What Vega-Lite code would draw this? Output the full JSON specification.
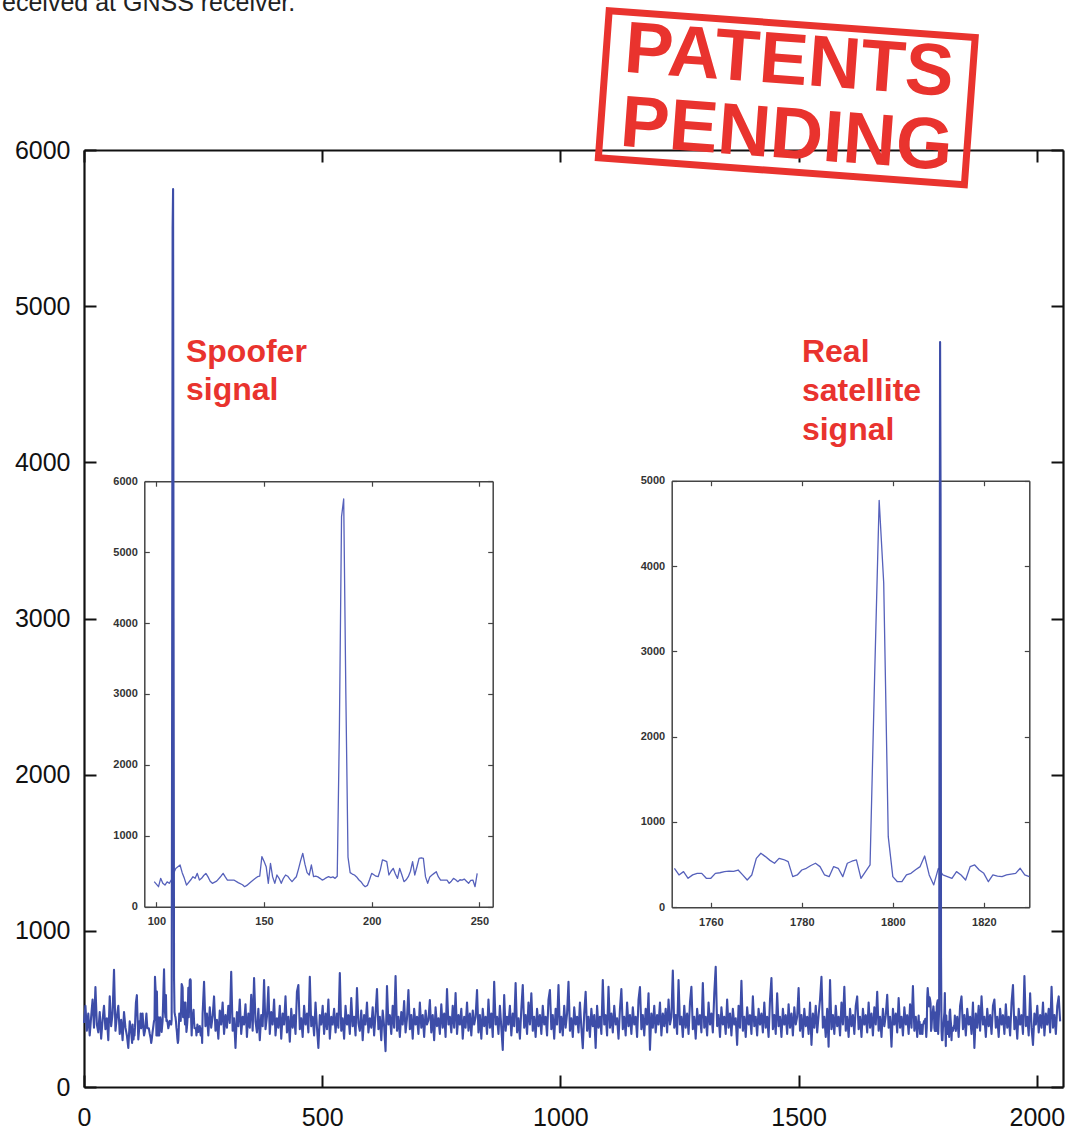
{
"$schema":"https://vega.github.io/schema/vega-lite/v6.json",
"width":979,"height":937,
"autosize":{"type":"none"},
"padding":{"left":84,"top":150,"right":8,"bottom":42},
"background":"white",
"config":{"view":{"stroke":null},"axis":{"grid":false,"labelFont":"Liberation Sans","title":null,"format":"d"}},
"datasets":{
"main":[
{"x":0,"y":410},{"x":3,"y":520},{"x":6,"y":360},{"x":9,"y":470},{"x":12,"y":330},{"x":15,"y":450},{"x":18,"y":560},{"x":21,"y":380},{"x":24,"y":640},{"x":27,"y":400},
{"x":30,"y":350},{"x":33,"y":480},{"x":36,"y":310},{"x":39,"y":430},{"x":42,"y":520},{"x":45,"y":370},{"x":48,"y":440},{"x":51,"y":300},{"x":54,"y":580},{"x":57,"y":390},
{"x":60,"y":470},{"x":63,"y":750},{"x":66,"y":360},{"x":69,"y":450},{"x":72,"y":520},{"x":75,"y":340},{"x":78,"y":430},{"x":81,"y":300},{"x":84,"y":480},{"x":87,"y":380},
{"x":90,"y":330},{"x":93,"y":250},{"x":96,"y":420},
{"x":99,"y":353},{"x":101,"y":282},{"x":102,"y":400},{"x":103,"y":330},{"x":104,"y":305},{"x":105,"y":350},{"x":106,"y":330},{"x":107,"y":380},{"x":108,"y":470},{"x":109,"y":540},
{"x":111,"y":588},{"x":112,"y":480},{"x":113,"y":400},{"x":114,"y":305},{"x":116,"y":380},{"x":117,"y":423},{"x":118,"y":400},{"x":119,"y":470},{"x":120,"y":376},{"x":121,"y":400},
{"x":122,"y":440},{"x":123,"y":470},{"x":124,"y":420},{"x":125,"y":360},{"x":126,"y":330},{"x":128,"y":360},{"x":130,"y":430},{"x":131,"y":470},{"x":132,"y":420},{"x":133,"y":376},
{"x":135,"y":376},{"x":136,"y":376},{"x":138,"y":340},{"x":140,"y":310},{"x":141,"y":282},{"x":142,"y":300},{"x":144,"y":353},{"x":146,"y":400},{"x":147,"y":423},{"x":148,"y":430},
{"x":149,"y":706},{"x":150,"y":640},{"x":151,"y":565},{"x":152,"y":330},{"x":153,"y":612},{"x":154,"y":420},{"x":155,"y":330},{"x":156,"y":447},{"x":157,"y":400},{"x":158,"y":330},
{"x":159,"y":400},{"x":160,"y":447},{"x":161,"y":430},{"x":162,"y":390},{"x":163,"y":353},{"x":164,"y":390},{"x":165,"y":423},{"x":166,"y":530},{"x":167,"y":650},{"x":168,"y":753},
{"x":169,"y":600},{"x":170,"y":480},{"x":171,"y":447},{"x":172,"y":588},{"x":173,"y":423},{"x":174,"y":430},{"x":175,"y":420},{"x":176,"y":400},{"x":177,"y":376},{"x":178,"y":390},
{"x":179,"y":410},{"x":180,"y":423},{"x":181,"y":410},{"x":182,"y":420},{"x":183,"y":400},{"x":184,"y":430},{"x":185,"y":2500},{"x":186,"y":5500},{"x":187,"y":5750},{"x":188,"y":3000},
{"x":189,"y":700},{"x":190,"y":480},{"x":191,"y":460},{"x":192,"y":447},{"x":193,"y":420},{"x":194,"y":380},{"x":195,"y":353},{"x":196,"y":310},{"x":197,"y":282},{"x":198,"y":300},
{"x":199,"y":380},{"x":200,"y":470},{"x":201,"y":450},{"x":202,"y":430},{"x":203,"y":423},{"x":204,"y":520},{"x":205,"y":659},{"x":206,"y":650},{"x":207,"y":635},{"x":208,"y":447},
{"x":209,"y":500},{"x":210,"y":541},{"x":211,"y":460},{"x":212,"y":400},{"x":213,"y":541},{"x":214,"y":450},{"x":215,"y":353},{"x":216,"y":380},{"x":217,"y":423},{"x":218,"y":500},
{"x":219,"y":635},{"x":220,"y":447},{"x":221,"y":560},{"x":222,"y":682},{"x":223,"y":690},{"x":224,"y":682},{"x":225,"y":420},{"x":226,"y":330},{"x":227,"y":420},{"x":228,"y":447},
{"x":229,"y":470},{"x":230,"y":494},{"x":231,"y":420},{"x":232,"y":376},{"x":234,"y":376},{"x":235,"y":376},{"x":236,"y":330},{"x":237,"y":360},{"x":238,"y":400},{"x":239,"y":380},
{"x":240,"y":353},{"x":241,"y":380},{"x":242,"y":376},{"x":243,"y":390},{"x":244,"y":360},{"x":245,"y":330},{"x":246,"y":370},{"x":247,"y":376},{"x":248,"y":282},{"x":249,"y":470},
{"x":252,"y":674},{"x":255,"y":390},{"x":258,"y":470},{"x":261,"y":330},{"x":264,"y":510},{"x":267,"y":380},{"x":270,"y":450},{"x":273,"y":580},{"x":276,"y":360},{"x":279,"y":430},
{"x":282,"y":310},{"x":285,"y":490},{"x":288,"y":400},{"x":291,"y":540},{"x":294,"y":340},{"x":297,"y":460},{"x":300,"y":380},{"x":303,"y":520},{"x":306,"y":410},{"x":309,"y":738},
{"x":312,"y":360},{"x":315,"y":440},{"x":318,"y":250},{"x":321,"y":480},{"x":324,"y":390},{"x":327,"y":560},{"x":330,"y":340},{"x":333,"y":450},{"x":336,"y":400},{"x":339,"y":530},
{"x":342,"y":320},{"x":345,"y":470},{"x":348,"y":380},{"x":351,"y":590},{"x":354,"y":360},{"x":357,"y":698},{"x":360,"y":420},{"x":363,"y":350},{"x":366,"y":500},{"x":369,"y":300},
{"x":372,"y":460},{"x":375,"y":390},{"x":378,"y":685},{"x":381,"y":370},{"x":384,"y":450},{"x":387,"y":640},{"x":390,"y":340},{"x":393,"y":480},{"x":396,"y":400},{"x":399,"y":560},
{"x":402,"y":330},{"x":405,"y":440},{"x":408,"y":380},{"x":411,"y":520},{"x":414,"y":310},{"x":417,"y":470},{"x":420,"y":400},{"x":423,"y":580},{"x":426,"y":350},{"x":429,"y":450},
{"x":432,"y":290},{"x":435,"y":500},{"x":438,"y":380},{"x":441,"y":460},{"x":444,"y":340},{"x":447,"y":610},{"x":450,"y":653},{"x":453,"y":370},{"x":456,"y":440},{"x":459,"y":320},
{"x":462,"y":520},{"x":465,"y":400},{"x":468,"y":470},{"x":471,"y":350},{"x":474,"y":706},{"x":477,"y":390},{"x":480,"y":450},{"x":483,"y":330},{"x":486,"y":540},{"x":489,"y":380},
{"x":492,"y":250},{"x":495,"y":460},{"x":498,"y":400},{"x":501,"y":520},{"x":504,"y":340},{"x":507,"y":470},{"x":510,"y":370},{"x":513,"y":560},{"x":516,"y":310},{"x":519,"y":450},
{"x":522,"y":400},{"x":525,"y":500},{"x":528,"y":350},{"x":531,"y":470},{"x":534,"y":380},{"x":537,"y":730},{"x":540,"y":360},{"x":543,"y":440},{"x":546,"y":310},{"x":549,"y":520},
{"x":552,"y":400},{"x":555,"y":460},{"x":558,"y":340},{"x":561,"y":570},{"x":564,"y":390},{"x":567,"y":450},{"x":570,"y":330},{"x":573,"y":633},{"x":576,"y":410},{"x":579,"y":360},
{"x":582,"y":490},{"x":585,"y":300},{"x":588,"y":460},{"x":591,"y":400},{"x":594,"y":540},{"x":597,"y":350},{"x":600,"y":440},{"x":603,"y":380},{"x":606,"y":510},{"x":609,"y":330},
{"x":612,"y":470},{"x":615,"y":627},{"x":618,"y":370},{"x":621,"y":450},{"x":624,"y":300},{"x":627,"y":490},{"x":630,"y":390},{"x":633,"y":230},{"x":636,"y":647},{"x":639,"y":400},
{"x":642,"y":460},{"x":645,"y":340},{"x":648,"y":520},{"x":651,"y":380},{"x":654,"y":711},{"x":657,"y":360},{"x":660,"y":450},{"x":663,"y":320},{"x":666,"y":480},{"x":669,"y":400},
{"x":672,"y":550},{"x":675,"y":350},{"x":678,"y":440},{"x":681,"y":621},{"x":684,"y":370},{"x":687,"y":460},{"x":690,"y":310},{"x":693,"y":500},{"x":696,"y":400},{"x":699,"y":450},
{"x":702,"y":340},{"x":705,"y":540},{"x":708,"y":380},{"x":711,"y":460},{"x":714,"y":320},{"x":717,"y":490},{"x":720,"y":400},{"x":723,"y":430},{"x":726,"y":557},{"x":729,"y":350},
{"x":732,"y":460},{"x":735,"y":300},{"x":738,"y":510},{"x":741,"y":390},{"x":744,"y":440},{"x":747,"y":340},{"x":750,"y":530},{"x":753,"y":380},{"x":756,"y":470},{"x":759,"y":320},
{"x":762,"y":627},{"x":765,"y":400},{"x":768,"y":450},{"x":771,"y":350},{"x":774,"y":520},{"x":777,"y":380},{"x":780,"y":601},{"x":783,"y":340},{"x":786,"y":460},{"x":789,"y":400},
{"x":792,"y":500},{"x":795,"y":310},{"x":798,"y":450},{"x":801,"y":380},{"x":804,"y":540},{"x":807,"y":360},{"x":810,"y":470},{"x":813,"y":330},{"x":816,"y":490},{"x":819,"y":400},
{"x":822,"y":450},{"x":825,"y":621},{"x":828,"y":350},{"x":831,"y":460},{"x":834,"y":310},{"x":837,"y":500},{"x":840,"y":390},{"x":843,"y":450},{"x":846,"y":340},{"x":849,"y":560},
{"x":852,"y":380},{"x":855,"y":470},{"x":858,"y":320},{"x":861,"y":674},{"x":864,"y":400},{"x":867,"y":450},{"x":870,"y":340},{"x":873,"y":520},{"x":876,"y":380},{"x":879,"y":237},
{"x":882,"y":589},{"x":885,"y":360},{"x":888,"y":450},{"x":891,"y":400},{"x":894,"y":520},{"x":897,"y":330},{"x":900,"y":470},{"x":903,"y":390},{"x":906,"y":666},{"x":909,"y":350},
{"x":912,"y":440},{"x":915,"y":310},{"x":918,"y":500},{"x":921,"y":653},{"x":924,"y":380},{"x":927,"y":460},{"x":930,"y":340},{"x":933,"y":540},{"x":936,"y":400},{"x":939,"y":600},
{"x":942,"y":360},{"x":945,"y":450},{"x":948,"y":320},{"x":951,"y":500},{"x":954,"y":390},{"x":957,"y":460},{"x":960,"y":340},{"x":963,"y":520},{"x":966,"y":400},{"x":969,"y":450},
{"x":972,"y":330},{"x":975,"y":560},{"x":978,"y":621},{"x":981,"y":370},{"x":984,"y":460},{"x":987,"y":310},{"x":990,"y":500},{"x":993,"y":400},{"x":996,"y":653},{"x":999,"y":350},
{"x":1002,"y":450},{"x":1005,"y":330},{"x":1008,"y":520},{"x":1011,"y":380},{"x":1014,"y":470},{"x":1017,"y":674},{"x":1020,"y":360},{"x":1023,"y":440},{"x":1026,"y":320},{"x":1029,"y":510},
{"x":1032,"y":400},{"x":1035,"y":450},{"x":1038,"y":350},{"x":1041,"y":540},{"x":1044,"y":380},{"x":1047,"y":248},{"x":1050,"y":470},{"x":1053,"y":610},{"x":1056,"y":360},{"x":1059,"y":450},
{"x":1062,"y":320},{"x":1065,"y":500},{"x":1068,"y":390},{"x":1071,"y":460},{"x":1074,"y":250},{"x":1077,"y":520},{"x":1080,"y":380},{"x":1083,"y":450},{"x":1086,"y":340},{"x":1089,"y":685},
{"x":1092,"y":400},{"x":1095,"y":460},{"x":1098,"y":330},{"x":1101,"y":642},{"x":1104,"y":380},{"x":1107,"y":470},{"x":1110,"y":350},{"x":1113,"y":520},{"x":1116,"y":400},{"x":1119,"y":440},
{"x":1122,"y":310},{"x":1125,"y":500},{"x":1128,"y":627},{"x":1131,"y":370},{"x":1134,"y":450},{"x":1137,"y":330},{"x":1140,"y":540},{"x":1143,"y":390},{"x":1146,"y":460},{"x":1149,"y":340},
{"x":1152,"y":510},{"x":1155,"y":400},{"x":1158,"y":450},{"x":1161,"y":320},{"x":1164,"y":560},{"x":1167,"y":640},{"x":1170,"y":370},{"x":1173,"y":460},{"x":1176,"y":330},{"x":1179,"y":500},
{"x":1182,"y":400},{"x":1185,"y":600},{"x":1188,"y":238},{"x":1191,"y":470},{"x":1194,"y":380},{"x":1197,"y":520},{"x":1200,"y":350},{"x":1203,"y":460},{"x":1206,"y":400},{"x":1209,"y":540},
{"x":1212,"y":330},{"x":1215,"y":470},{"x":1218,"y":390},{"x":1221,"y":500},{"x":1224,"y":350},{"x":1227,"y":560},{"x":1230,"y":400},{"x":1233,"y":450},{"x":1236,"y":745},{"x":1239,"y":380},
{"x":1242,"y":460},{"x":1245,"y":340},{"x":1248,"y":685},{"x":1251,"y":400},{"x":1254,"y":450},{"x":1257,"y":320},{"x":1260,"y":520},{"x":1263,"y":380},{"x":1266,"y":470},{"x":1269,"y":340},
{"x":1272,"y":540},{"x":1275,"y":642},{"x":1278,"y":370},{"x":1281,"y":450},{"x":1284,"y":310},{"x":1287,"y":500},{"x":1290,"y":400},{"x":1293,"y":460},{"x":1296,"y":350},{"x":1299,"y":666},
{"x":1302,"y":380},{"x":1305,"y":450},{"x":1308,"y":330},{"x":1311,"y":540},{"x":1314,"y":400},{"x":1317,"y":470},{"x":1320,"y":350},{"x":1323,"y":600},{"x":1326,"y":770},{"x":1329,"y":390},
{"x":1332,"y":460},{"x":1335,"y":320},{"x":1338,"y":510},{"x":1341,"y":400},{"x":1344,"y":450},{"x":1347,"y":340},{"x":1350,"y":560},{"x":1353,"y":380},{"x":1356,"y":470},{"x":1359,"y":330},
{"x":1362,"y":500},{"x":1365,"y":400},{"x":1368,"y":440},{"x":1371,"y":270},{"x":1374,"y":520},{"x":1377,"y":380},{"x":1380,"y":680},{"x":1383,"y":360},{"x":1386,"y":450},{"x":1389,"y":320},
{"x":1392,"y":510},{"x":1395,"y":400},{"x":1398,"y":460},{"x":1401,"y":340},{"x":1404,"y":580},{"x":1407,"y":390},{"x":1410,"y":450},{"x":1413,"y":330},{"x":1416,"y":500},{"x":1419,"y":400},
{"x":1422,"y":470},{"x":1425,"y":350},{"x":1428,"y":540},{"x":1431,"y":380},{"x":1434,"y":450},{"x":1437,"y":320},{"x":1440,"y":560},{"x":1443,"y":698},{"x":1446,"y":370},{"x":1449,"y":460},
{"x":1452,"y":340},{"x":1455,"y":600},{"x":1458,"y":390},{"x":1461,"y":450},{"x":1464,"y":320},{"x":1467,"y":500},{"x":1470,"y":400},{"x":1473,"y":460},{"x":1476,"y":340},{"x":1479,"y":530},
{"x":1482,"y":380},{"x":1485,"y":470},{"x":1488,"y":330},{"x":1491,"y":510},{"x":1494,"y":400},{"x":1497,"y":450},{"x":1500,"y":633},{"x":1503,"y":360},{"x":1506,"y":460},{"x":1509,"y":320},
{"x":1512,"y":500},{"x":1515,"y":390},{"x":1518,"y":450},{"x":1521,"y":340},{"x":1524,"y":540},{"x":1527,"y":270},{"x":1530,"y":470},{"x":1533,"y":380},{"x":1536,"y":520},{"x":1539,"y":350},
{"x":1542,"y":460},{"x":1545,"y":560},{"x":1548,"y":706},{"x":1551,"y":380},{"x":1554,"y":450},{"x":1557,"y":320},{"x":1560,"y":500},{"x":1563,"y":258},{"x":1566,"y":685},{"x":1569,"y":370},
{"x":1572,"y":460},{"x":1575,"y":340},{"x":1578,"y":520},{"x":1581,"y":390},{"x":1584,"y":450},{"x":1587,"y":330},{"x":1590,"y":540},{"x":1593,"y":400},{"x":1596,"y":642},{"x":1599,"y":360},
{"x":1602,"y":450},{"x":1605,"y":320},{"x":1608,"y":500},{"x":1611,"y":390},{"x":1614,"y":460},{"x":1617,"y":340},{"x":1620,"y":520},{"x":1623,"y":580},{"x":1626,"y":370},{"x":1629,"y":450},
{"x":1632,"y":320},{"x":1635,"y":500},{"x":1638,"y":400},{"x":1641,"y":460},{"x":1644,"y":350},{"x":1647,"y":540},{"x":1650,"y":380},{"x":1653,"y":470},{"x":1656,"y":330},{"x":1659,"y":510},
{"x":1662,"y":400},{"x":1665,"y":610},{"x":1668,"y":360},{"x":1671,"y":450},{"x":1674,"y":320},{"x":1677,"y":500},{"x":1680,"y":390},{"x":1683,"y":460},{"x":1686,"y":590},{"x":1689,"y":380},
{"x":1692,"y":450},{"x":1695,"y":258},{"x":1698,"y":500},{"x":1701,"y":400},{"x":1704,"y":470},{"x":1707,"y":350},{"x":1710,"y":570},{"x":1713,"y":380},{"x":1716,"y":450},{"x":1719,"y":330},
{"x":1722,"y":510},{"x":1725,"y":400},{"x":1728,"y":460},{"x":1731,"y":340},{"x":1734,"y":530},{"x":1737,"y":380},{"x":1740,"y":647},{"x":1743,"y":360},{"x":1746,"y":450},{"x":1749,"y":320},
{"x":1752,"y":457},{"x":1753,"y":379},{"x":1754,"y":418},{"x":1755,"y":340},{"x":1756,"y":380},{"x":1757,"y":398},{"x":1758,"y":398},{"x":1759,"y":340},{"x":1760,"y":340},{"x":1761,"y":398},
{"x":1762,"y":405},{"x":1763,"y":418},{"x":1764,"y":425},{"x":1765,"y":420},{"x":1766,"y":437},{"x":1767,"y":380},{"x":1768,"y":320},{"x":1769,"y":379},{"x":1770,"y":574},{"x":1771,"y":633},
{"x":1772,"y":594},{"x":1773,"y":550},{"x":1774,"y":516},{"x":1775,"y":574},{"x":1776,"y":560},{"x":1777,"y":535},{"x":1778,"y":359},{"x":1779,"y":379},{"x":1780,"y":437},{"x":1781,"y":457},
{"x":1782,"y":490},{"x":1783,"y":516},{"x":1784,"y":477},{"x":1785,"y":379},{"x":1786,"y":359},{"x":1787,"y":477},{"x":1788,"y":457},{"x":1789,"y":359},{"x":1790,"y":516},{"x":1791,"y":540},
{"x":1792,"y":555},{"x":1793,"y":340},{"x":1794,"y":418},{"x":1795,"y":496},{"x":1796,"y":2700},{"x":1797,"y":4770},{"x":1798,"y":3800},{"x":1799,"y":828},{"x":1800,"y":359},{"x":1801,"y":300},
{"x":1802,"y":300},{"x":1803,"y":379},{"x":1804,"y":398},{"x":1805,"y":440},{"x":1806,"y":477},{"x":1807,"y":601},{"x":1808,"y":379},{"x":1809,"y":262},{"x":1810,"y":457},{"x":1811,"y":379},
{"x":1812,"y":360},{"x":1813,"y":340},{"x":1814,"y":418},{"x":1815,"y":379},{"x":1816,"y":320},{"x":1817,"y":477},{"x":1818,"y":496},{"x":1819,"y":437},{"x":1820,"y":398},{"x":1821,"y":300},
{"x":1822,"y":379},{"x":1823,"y":365},{"x":1824,"y":359},{"x":1825,"y":379},{"x":1826,"y":390},{"x":1827,"y":398},{"x":1828,"y":457},{"x":1829,"y":379},{"x":1830,"y":359},
{"x":1833,"y":450},{"x":1836,"y":320},{"x":1839,"y":520},{"x":1842,"y":580},{"x":1845,"y":370},{"x":1848,"y":460},{"x":1851,"y":330},{"x":1854,"y":500},{"x":1857,"y":400},{"x":1860,"y":450},
{"x":1863,"y":340},{"x":1866,"y":540},{"x":1869,"y":250},{"x":1872,"y":470},{"x":1875,"y":380},{"x":1878,"y":520},{"x":1881,"y":360},{"x":1884,"y":580},{"x":1887,"y":400},{"x":1890,"y":450},
{"x":1893,"y":320},{"x":1896,"y":500},{"x":1899,"y":390},{"x":1902,"y":460},{"x":1905,"y":340},{"x":1908,"y":520},{"x":1911,"y":560},{"x":1914,"y":380},{"x":1917,"y":450},{"x":1920,"y":320},
{"x":1923,"y":500},{"x":1926,"y":400},{"x":1929,"y":460},{"x":1932,"y":340},{"x":1935,"y":530},{"x":1938,"y":380},{"x":1941,"y":450},{"x":1944,"y":330},{"x":1947,"y":540},{"x":1950,"y":653},
{"x":1953,"y":370},{"x":1956,"y":450},{"x":1959,"y":310},{"x":1962,"y":500},{"x":1965,"y":400},{"x":1968,"y":460},{"x":1971,"y":340},{"x":1974,"y":711},{"x":1977,"y":390},{"x":1980,"y":450},
{"x":1983,"y":330},{"x":1986,"y":600},{"x":1989,"y":380},{"x":1992,"y":269},{"x":1995,"y":470},{"x":1998,"y":400},{"x":2001,"y":520},{"x":2004,"y":350},{"x":2007,"y":460},{"x":2010,"y":380},
{"x":2013,"y":540},{"x":2016,"y":330},{"x":2019,"y":470},{"x":2022,"y":400},{"x":2025,"y":500},{"x":2028,"y":350},{"x":2031,"y":642},{"x":2034,"y":380},{"x":2037,"y":460},{"x":2040,"y":340},
{"x":2043,"y":520},{"x":2046,"y":580},{"x":2049,"y":420}
],
"red":[
{"label":"Spoofer","x":214,"y":4642},
{"label":"signal","x":214,"y":4399},
{"label":"Real","x":1507,"y":4642},
{"label":"satellite","x":1507,"y":4393},
{"label":"signal","x":1507,"y":4143}
],
"stamp":[
{"label":"PATENTS","x":1476.7,"y":6423},
{"label":"PENDING","x":1471.4,"y":5949}
],
"stampframe":[{"x":1475.2,"y":6335}],
"caption":[{"label":"eceived at GNSS receiver.","x":-172,"y":6887}]
},
"layer":[
{
"data":{"name":"main"},
"transform":[{"filter":"datum.x >= 99 && datum.x <= 249"}],
"mark":{"type":"line","color":"#5661bb","strokeWidth":1.3,"strokeJoin":"round"},
"encoding":{
"x":{"field":"x","type":"quantitative","scale":{"domain":[94.4,256.2],"range":[60.3,408.7],"nice":false,"zero":false},
"axis":{"orient":"bottom","offset":-180.3,"values":[100,150,200,250],"format":"d","tickSize":-5,"labelPadding":14,"labelFontSize":11,"labelFontWeight":"bold","labelColor":"#333","domainColor":"#444","tickColor":"#444","domainWidth":1.5,"tickWidth":1.2,"labelFlush":false,"labelOverlap":false,"title":null}},
"y":{"field":"y","type":"quantitative","scale":{"domain":[0,6000],"range":[756.7,331.2],"nice":false,"zero":false},
"axis":{"orient":"left","offset":-60.3,"values":[0,1000,2000,3000,4000,5000,6000],"format":"d","tickSize":-5,"labelPadding":12,"labelFontSize":11,"labelFontWeight":"bold","labelColor":"#333","domainColor":"#444","tickColor":"#444","domainWidth":1.5,"tickWidth":1.2,"labelFlush":false,"labelOverlap":false,"title":null}}
}
},
{
"data":{"name":"main"},
"transform":[{"filter":"datum.x >= 99 && datum.x <= 249"}],
"mark":{"type":"line","strokeOpacity":0},
"encoding":{
"x":{"field":"x","type":"quantitative","scale":{"domain":[94.4,256.2],"range":[60.3,408.7],"nice":false,"zero":false},
"axis":{"orient":"top","offset":-331.2,"values":[100,150,200,250],"tickSize":-5,"labels":false,"domainColor":"#444","tickColor":"#444","domainWidth":1.5,"tickWidth":1.2,"title":null}},
"y":{"field":"y","type":"quantitative","scale":{"domain":[0,6000],"range":[756.7,331.2],"nice":false,"zero":false},
"axis":{"orient":"right","offset":-570.3,"values":[0,1000,2000,3000,4000,5000,6000],"tickSize":-5,"labels":false,"domainColor":"#444","tickColor":"#444","domainWidth":1.5,"tickWidth":1.2,"title":null}}
}
},
{
"data":{"name":"main"},
"transform":[{"filter":"datum.x >= 1752 && datum.x <= 1830"}],
"mark":{"type":"line","color":"#5661bb","strokeWidth":1.3,"strokeJoin":"round"},
"encoding":{
"x":{"field":"x","type":"quantitative","scale":{"domain":[1751.4,1830],"range":[587.7,945.3],"nice":false,"zero":false},
"axis":{"orient":"bottom","offset":-179.7,"values":[1760,1780,1800,1820],"format":"d","tickSize":-5,"labelPadding":14,"labelFontSize":11,"labelFontWeight":"bold","labelColor":"#333","domainColor":"#444","tickColor":"#444","domainWidth":1.5,"tickWidth":1.2,"labelFlush":false,"labelOverlap":false,"title":null}},
"y":{"field":"y","type":"quantitative","scale":{"domain":[0,5000],"range":[757.3,330.7],"nice":false,"zero":false},
"axis":{"orient":"left","offset":-587.7,"values":[0,1000,2000,3000,4000,5000],"format":"d","tickSize":-5,"labelPadding":12,"labelFontSize":11,"labelFontWeight":"bold","labelColor":"#333","domainColor":"#444","tickColor":"#444","domainWidth":1.5,"tickWidth":1.2,"labelFlush":false,"labelOverlap":false,"title":null}}
}
},
{
"data":{"name":"main"},
"transform":[{"filter":"datum.x >= 1752 && datum.x <= 1830"}],
"mark":{"type":"line","strokeOpacity":0},
"encoding":{
"x":{"field":"x","type":"quantitative","scale":{"domain":[1751.4,1830],"range":[587.7,945.3],"nice":false,"zero":false},
"axis":{"orient":"top","offset":-330.7,"values":[1760,1780,1800,1820],"tickSize":-5,"labels":false,"domainColor":"#444","tickColor":"#444","domainWidth":1.5,"tickWidth":1.2,"title":null}},
"y":{"field":"y","type":"quantitative","scale":{"domain":[0,5000],"range":[757.3,330.7],"nice":false,"zero":false},
"axis":{"orient":"right","offset":-33.7,"values":[0,1000,2000,3000,4000,5000],"tickSize":-5,"labels":false,"domainColor":"#444","tickColor":"#444","domainWidth":1.5,"tickWidth":1.2,"title":null}}
}
},
{
"data":{"name":"main"},
"mark":{"type":"line","strokeOpacity":0},
"encoding":{
"x":{"field":"x","type":"quantitative","scale":{"domain":[0,2055],"nice":false,"zero":false},
"axis":{"orient":"top","values":[0,500,1000,1500,2000],"tickSize":-12,"labels":false,"domainColor":"#111","tickColor":"#111","domainWidth":2.2,"tickWidth":2,"title":null}},
"y":{"field":"y","type":"quantitative","scale":{"domain":[0,6000],"nice":false,"zero":false},
"axis":{"orient":"right","values":[0,1000,2000,3000,4000,5000,6000],"tickSize":-12,"labels":false,"domainColor":"#111","tickColor":"#111","domainWidth":2.2,"tickWidth":2,"title":null}}
}
},
{
"data":{"name":"main"},
"mark":{"type":"line","color":"#3d4da8","strokeWidth":2.1,"strokeJoin":"round"},
"encoding":{
"x":{"field":"x","type":"quantitative","scale":{"domain":[0,2055],"nice":false,"zero":false},
"axis":{"orient":"bottom","values":[0,500,1000,1500,2000],"format":"d","tickSize":-12,"labelPadding":30,"labelFontSize":25,"labelColor":"#111","domainColor":"#111","tickColor":"#111","domainWidth":2.2,"tickWidth":2,"labelFlush":false,"labelOverlap":false,"title":null}},
"y":{"field":"y","type":"quantitative","scale":{"domain":[0,6000],"nice":false,"zero":false},
"axis":{"orient":"left","values":[0,1000,2000,3000,4000,5000,6000],"format":"d","tickSize":-12,"labelPadding":26,"labelFontSize":25,"labelColor":"#111","domainColor":"#111","tickColor":"#111","domainWidth":2.2,"tickWidth":2,"labelFlush":false,"labelOverlap":false,"title":null}}
}
},
{
"data":{"name":"red"},
"mark":{"type":"text","font":"Liberation Sans","fontWeight":"bold","fontSize":32,"color":"#e9332e","align":"left","baseline":"alphabetic"},
"encoding":{
"x":{"field":"x","type":"quantitative","scale":{"domain":[0,2055],"nice":false,"zero":false},"axis":null},
"y":{"field":"y","type":"quantitative","scale":{"domain":[0,6000],"nice":false,"zero":false},"axis":null},
"text":{"field":"label"}
}
},
{
"data":{"name":"stamp"},
"mark":{"type":"text","font":"Liberation Sans","fontWeight":"bold","fontSize":73,"color":"#e9332e","align":"center","baseline":"alphabetic","angle":4.2},
"encoding":{
"x":{"field":"x","type":"quantitative","scale":{"domain":[0,2055],"nice":false,"zero":false},"axis":null},
"y":{"field":"y","type":"quantitative","scale":{"domain":[0,6000],"nice":false,"zero":false},"axis":null},
"text":{"field":"label"}
}
},
{
"data":{"name":"stampframe"},
"mark":{"type":"point","shape":"M-1,-0.402L1,-0.402L1,0.402L-1,0.402Z","filled":false,"stroke":"#e9332e","strokeWidth":7,"size":134689,"angle":4.2,"opacity":1},
"encoding":{
"x":{"field":"x","type":"quantitative","scale":{"domain":[0,2055],"nice":false,"zero":false},"axis":null},
"y":{"field":"y","type":"quantitative","scale":{"domain":[0,6000],"nice":false,"zero":false},"axis":null}
}
},
{
"data":{"name":"caption"},
"mark":{"type":"text","font":"Liberation Sans","fontSize":25,"color":"#222","align":"left","baseline":"alphabetic"},
"encoding":{
"x":{"field":"x","type":"quantitative","scale":{"domain":[0,2055],"nice":false,"zero":false},"axis":null},
"y":{"field":"y","type":"quantitative","scale":{"domain":[0,6000],"nice":false,"zero":false},"axis":null},
"text":{"field":"label"}
}
}
],
"resolve":{"scale":{"x":"independent","y":"independent"}}
}
